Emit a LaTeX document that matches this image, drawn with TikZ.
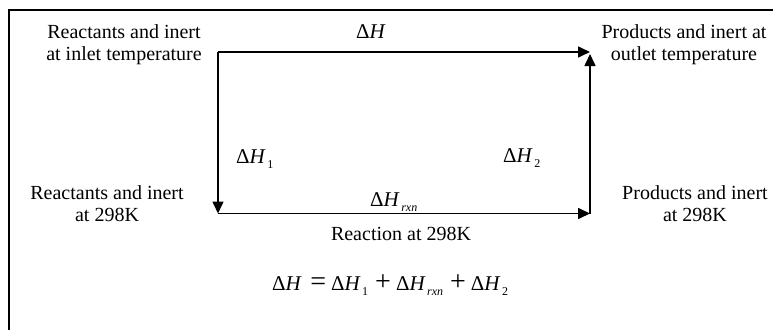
\documentclass[tikz,border=0pt]{standalone}
\usepackage{fontspec}
\setmainfont{Liberation Serif}
\usetikzlibrary{arrows.meta,positioning}

\newcommand{\dH}[1]{{\fontsize{21}{21}\selectfont Δ\textit{H}}\kern1.5pt\raisebox{-5.5pt}{\fontsize{12}{12}\selectfont#1}}
\newcommand{\rxnsub}{\textit{\fontsize{12}{12}\selectfont rxn}}
\newcommand{\eqsym}[1]{\hspace{7pt}{\fontsize{28}{28}\selectfont#1}\hspace{5pt}}

\begin{document}
\begin{tikzpicture}[
  x=1pt,y=-1pt,
  font=\fontsize{20}{22}\selectfont,
  lbl/.style={inner sep=0pt,align=center},
  arr/.style={-{Triangle[length=12pt,width=11pt]},line width=1.6pt}
]
\useasboundingbox (0,0) rectangle (773,329);
\draw[line width=1.2pt] (9,340) -- (9,10) -- (780,10);

% ---------- cycle corners ----------
\coordinate (tl) at (218,52);
\coordinate (tr) at (590,52);
\coordinate (bl) at (218,213.5);
\coordinate (br) at (590,213.5);

\draw[arr] (tl) -- (tr);
\draw[arr] (tl) -- (bl);
\draw[arr] (bl) -- (br);
\draw[arr,shorten >=2pt] (br) -- (tr);

% ---------- states ----------
\node[lbl] (inlet) at (124,44.3) {Reactants and inert\\at inlet temperature};
\node[lbl] (outlet) at (684,44.3) {Products and inert at\\outlet temperature};
\node[lbl] (react) at (107,204) {Reactants and inert\\at 298K};
\node[lbl] (prod) at (695,204) {Products and inert\\at 298K};

% ---------- enthalpy labels ----------
\node[lbl,anchor=base west] (dh) at (356,38) {\dH{}};
\node[lbl,anchor=base west] (dh1) at (236,163) {\dH{1}};
\node[lbl,anchor=base west] (dh2) at (503,162) {\dH{2}};
\node[lbl,anchor=base west] (dhr) at (370,206) {\dH{\rxnsub}};
\node[lbl,anchor=base] (rxn) at (401,240) {Reaction at 298K};
\node[lbl,anchor=base west] (eq) at (272,290)
  {\dH{}\eqsym{=}\dH{1}\eqsym{+}\dH{\rxnsub}\eqsym{+}\dH{2}};

\end{tikzpicture}
\end{document}
